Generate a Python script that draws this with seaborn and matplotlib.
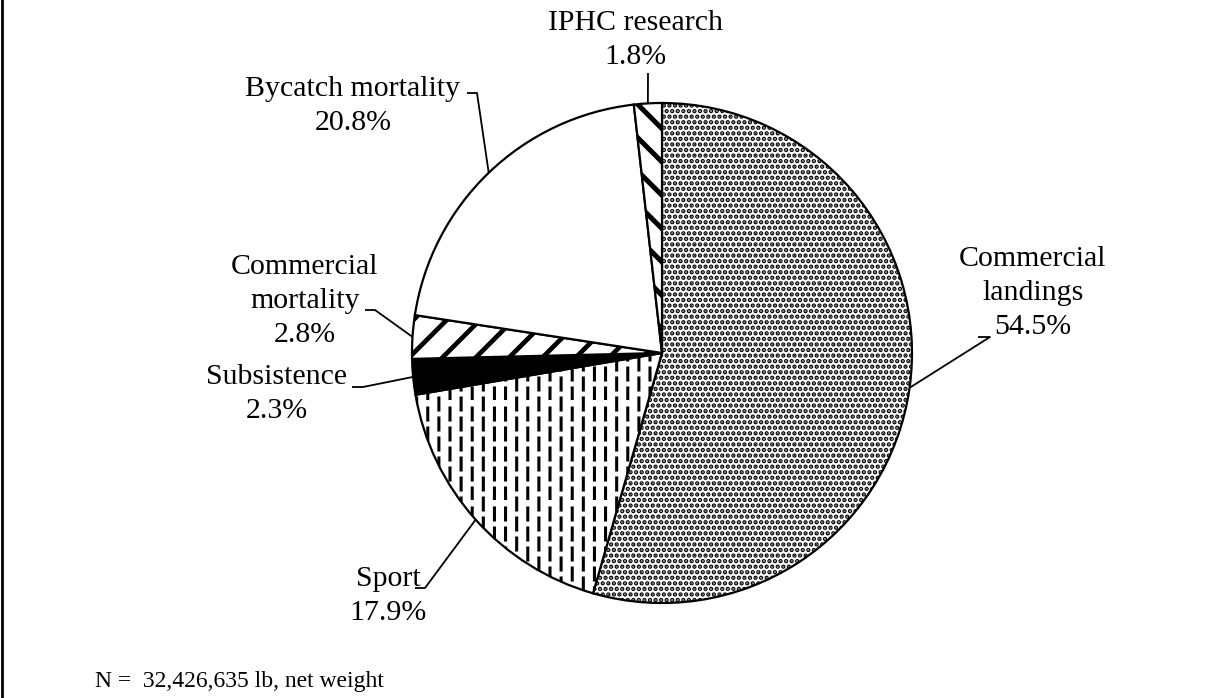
import warnings
import numpy as np
import matplotlib
matplotlib.use("Agg")
import matplotlib.pyplot as plt
import matplotlib.hatch as mhatch
from matplotlib.path import Path
from matplotlib.lines import Line2D
import seaborn as sns

warnings.filterwarnings("ignore")

# ---- data -------------------------------------------------------------
categories = ["Commercial landings", "Sport", "Subsistence",
              "Commercial mortality", "Bycatch mortality", "IPHC research"]
shares = [54.5, 17.9, 2.3, 2.8, 20.8, 1.8]
label_texts = ["Commercial\nlandings\n54.5%", "Sport\n17.9%", "Subsistence\n2.3%",
               "Commercial\nmortality\n2.8%", "Bycatch mortality\n20.8%",
               "IPHC research\n1.8%"]
note_text = "N =  32,426,635 lb, net weight"


# ---- dashed vertical hatch (":") ---------------------------------------
class DashedVerticalHatch(mhatch.HatchPatternBase):
    def __init__(self, hatch, density):
        self.segments = []
        if hatch.count(":"):
            cols, period, dash = 9, 0.2, 0.12
            for i in range(cols):
                x = (i + 0.5) / cols
                off = 0.0 if i % 2 == 0 else period / 2
                for j in range(5):
                    y0 = off + j * period
                    y1 = y0 + dash
                    if y1 <= 1.0:
                        self.segments.append(((x, y0), (x, y1)))
                    else:
                        self.segments.append(((x, y0), (x, 1.0)))
                        self.segments.append(((x, 0.0), (x, y1 - 1.0)))
        self.num_lines = len(self.segments)
        self.num_vertices = 2 * self.num_lines

    def set_vertices_and_codes(self, vertices, codes):
        for k, (a, b) in enumerate(self.segments):
            vertices[2 * k] = a
            vertices[2 * k + 1] = b
            codes[2 * k] = Path.MOVETO
            codes[2 * k + 1] = Path.LINETO


mhatch._hatch_types.append(DashedVerticalHatch)

# ---- styling ----------------------------------------------------------
sns.set_theme(style="white")
plt.rcParams["font.family"] = ["Liberation Serif", "DejaVu Serif"]
plt.rcParams["hatch.color"] = "black"

fills = ["white", "white", "black", "white", "white", "white"]
hatches = ["...", ":", None, "/", None, "\\"]
hatch_widths = [2.2, 2.2, 1.0, 3.4, 1.0, 3.6]

W, H = 1207, 698
fig = plt.figure(figsize=(W / 100, H / 100), dpi=100)
ax = fig.add_axes([0, 0, 1, 1])

cx, cy, R = 662, 353, 250
wedges, _ = ax.pie(shares, startangle=-90, counterclock=True,
                   center=(cx, cy), radius=R, colors=fills,
                   wedgeprops=dict(edgecolor="black", linewidth=1.6))
for w, h, hw in zip(wedges, hatches, hatch_widths):
    if h:
        w.set_hatch(h)
    if hasattr(w, "set_hatch_linewidth"):
        w.set_hatch_linewidth(hw)

ax.set_xlim(0, W)
ax.set_ylim(H, 0)
ax.set_aspect("equal", adjustable="box")
ax.axis("off")

# ---- labels and leader lines ------------------------------------------
text_pos = [(1033, 293), (388, 596), (277, 394), (305, 301), (353, 106), (635, 40)]
elbows = [[(978, 337), (990, 337)],
          [(415, 588), (425, 588)],
          [(352, 387), (363, 387)],
          [(365, 310), (375, 310)],
          [(467, 93), (477, 93)],
          [(648, 73)]]

for w, txt, (tx, ty), elb in zip(wedges, label_texts, text_pos, elbows):
    ax.text(tx, ty, txt, ha="center", va="center", fontsize=21.5,
            linespacing=1.42, color="black")
    mid = np.deg2rad((w.theta1 + w.theta2) / 2)
    end = (cx + R * np.cos(mid), cy + R * np.sin(mid))
    pts = elb + [end]
    ax.plot([p[0] for p in pts], [p[1] for p in pts], color="black", lw=1.3,
            solid_capstyle="butt", zorder=3)

ax.text(95, 681, note_text, ha="left", va="center", fontsize=17, color="black")

# left frame edge
fig.add_artist(Line2D([1.5 / W, 1.5 / W], [0, 1], transform=fig.transFigure,
                      color="black", lw=2))

fig.savefig("out.png", dpi=100, facecolor="white")
